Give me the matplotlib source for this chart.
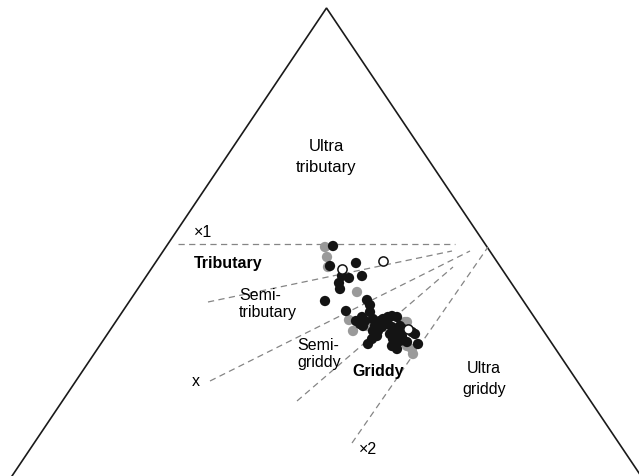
import matplotlib
matplotlib.use("Agg")
import matplotlib.pyplot as plt

plt.rcParams["font.family"] = ["Liberation Sans", "DejaVu Sans"]

# triangle outline (left foot, apex, right foot), screen-style coordinates
tri_x = [12, 326.5, 641]
tri_y = [477, 9, 477]

# dashed boundaries between the feeding classes
bounds = [
    ((178, 245), (455, 245)),
    ((208, 303), (452, 252)),
    ((210, 382), (470, 252)),
    ((297, 402), (453, 268)),
    ((352, 444), (488, 248)),
]

# sampled points, by group
black_x = [333, 330, 356, 342, 349, 362, 339, 340, 325, 367, 370, 346,
           362, 365, 360, 363, 373, 377, 380, 383, 375, 373, 378, 382, 385,
           377, 372, 368, 388, 392, 397, 388, 392, 400, 403, 412, 390, 397,
           402, 393, 400, 415, 392, 397, 407, 418, 370, 356]
black_y = [247, 267, 264, 277, 279, 277, 284, 290, 302, 301, 306, 312,
           318, 322, 325, 327, 320, 323, 322, 320, 327, 332, 332, 328, 325,
           337, 340, 345, 318, 317, 318, 325, 328, 327, 330, 333, 335, 335,
           337, 340, 342, 335, 347, 350, 343, 345, 313, 322]
gray_x = [325, 327, 328, 357, 349, 405, 353, 367, 407, 407, 412, 413]
gray_y = [248, 258, 268, 293, 321, 323, 332, 327, 323, 347, 350, 355]
open_x = [342, 383, 408]
open_y = [270, 262, 330]

fig = plt.figure(figsize=(6.39, 4.77), dpi=100)
ax = fig.add_axes([0, 0, 1, 1])
ax.set_xlim(0, 639)
ax.set_ylim(477, 0)
ax.axis("off")

ax.plot(tri_x, tri_y, color="#1a1a1a", lw=1.2, solid_joinstyle="miter")
for (x0, y0), (x1, y1) in bounds:
    ax.plot([x0, x1], [y0, y1], color="#858585", lw=0.9, dashes=(5, 3.5))

ax.scatter(gray_x, gray_y, s=55, color="#9a9a9a", edgecolors="none", zorder=3)
ax.scatter(black_x, black_y, s=55, color="#141414", edgecolors="none", zorder=4)
ax.scatter(open_x, open_y, s=44, facecolors="white", edgecolors="#141414",
           linewidths=1.1, zorder=5)

fs = 11.5
ax.text(326, 157, "Ultra\ntributary", ha="center", va="center", fontsize=12,
        linespacing=1.45)
ax.text(203, 233, "×1", ha="center", va="center", fontsize=fs)
ax.text(228, 264, "Tributary", ha="center", va="center", fontsize=fs,
        fontweight="bold")
ax.text(239, 304, "Semi-\ntributary", ha="left", va="center", fontsize=fs,
        linespacing=1.2)
ax.text(297, 354, "Semi-\ngriddy", ha="left", va="center", fontsize=fs,
        linespacing=1.2)
ax.text(196, 382, "x", ha="center", va="center", fontsize=fs)
ax.text(378, 372, "Griddy", ha="center", va="center", fontsize=fs,
        fontweight="bold")
ax.text(484, 379, "Ultra\ngriddy", ha="center", va="center", fontsize=fs,
        linespacing=1.45)
ax.text(368, 450, "×2", ha="center", va="center", fontsize=fs)

fig.savefig("out.png", dpi=100)
